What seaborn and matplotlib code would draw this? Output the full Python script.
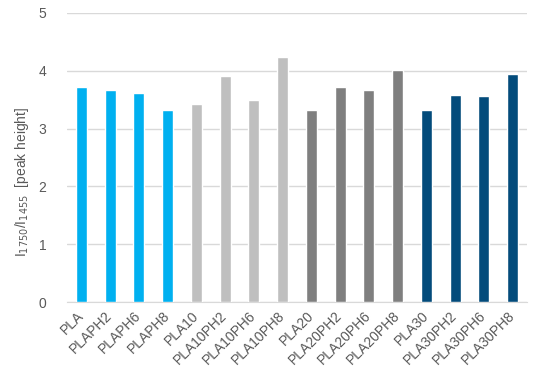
import pandas as pd
import seaborn as sns
import matplotlib.pyplot as plt

# Data
samples = ["PLA", "PLAPH2", "PLAPH6", "PLAPH8",
           "PLA10", "PLA10PH2", "PLA10PH6", "PLA10PH8",
           "PLA20", "PLA20PH2", "PLA20PH6", "PLA20PH8",
           "PLA30", "PLA30PH2", "PLA30PH6", "PLA30PH8"]
ratio = [3.72, 3.67, 3.62, 3.32,
         3.43, 3.91, 3.49, 4.23,
         3.33, 3.72, 3.66, 4.02,
         3.33, 3.59, 3.57, 3.94]
group_colors = ["#00B0F0", "#BFBFBF", "#7F7F7F", "#034B7B"]

df = pd.DataFrame({"sample": samples, "ratio": ratio})
palette = [c for c in group_colors for _ in range(4)]

sns.set_style("white")
plt.rcParams['font.family'] = ['Liberation Sans', 'DejaVu Sans']

fig = plt.figure(figsize=(5.5, 3.81), dpi=100)
ax = fig.add_axes([0.122, 0.207, 0.836, 0.759])
sns.barplot(x="sample", y="ratio", hue="sample", data=df, palette=palette,
            width=0.38, saturation=1, legend=False, ax=ax, zorder=3)

ax.set_ylim(0, 5)
ax.set_yticks([0, 1, 2, 3, 4, 5])
ax.set_xlim(-0.5, len(samples) - 0.5)
ax.yaxis.grid(True, color="#D9D9D9", linewidth=1, zorder=0)
for s in ["top", "right", "left"]:
    ax.spines[s].set_visible(False)
ax.spines["bottom"].set_color("#D9D9D9")
ax.tick_params(axis="both", length=0, colors="#595959", labelsize=10)
ax.tick_params(axis="y", pad=15)
ax.tick_params(axis="x", pad=8)
plt.setp(ax.get_xticklabels(), rotation=45, ha="right", va="center",
         rotation_mode="anchor")

ax.set_xlabel("")
ax.set_ylabel("I$_{1750}$/I$_{1455}$  [peak height]", color="#595959", fontsize=10)
ax.yaxis.set_label_coords(-0.078, 0.415)

plt.savefig("out.png", dpi=100)
